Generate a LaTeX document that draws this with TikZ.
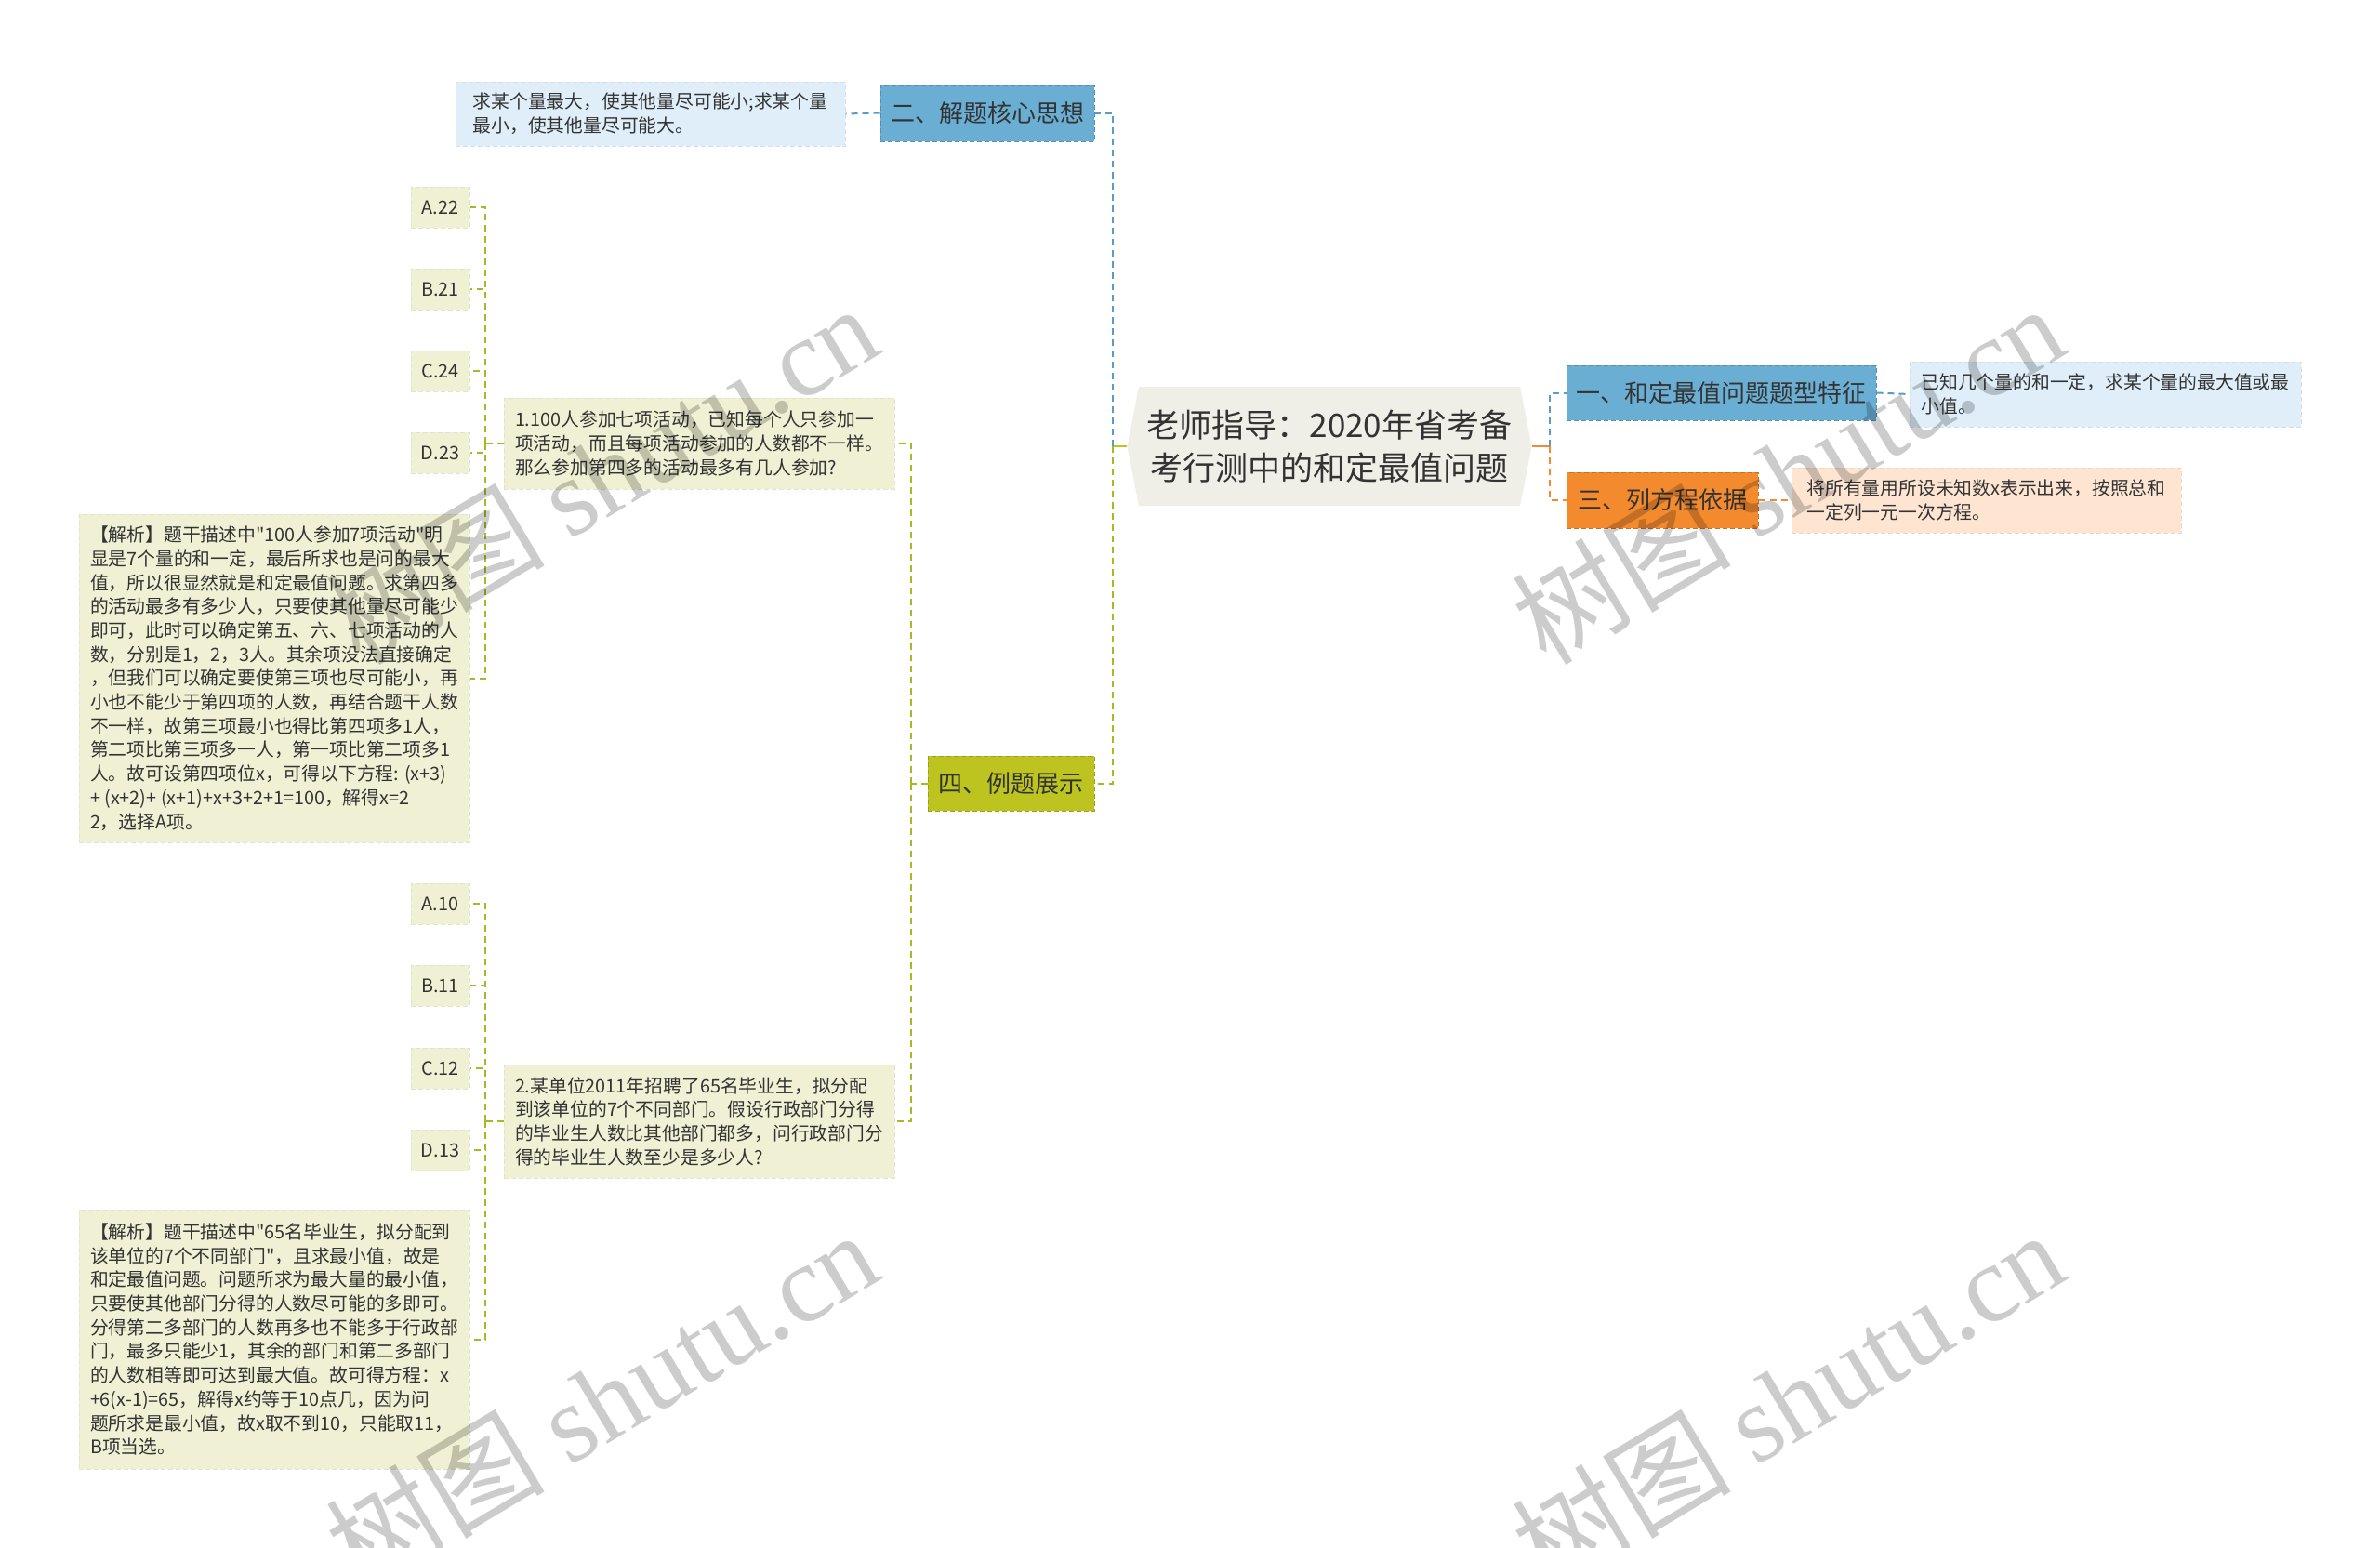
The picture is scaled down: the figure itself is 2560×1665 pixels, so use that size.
\documentclass[tikz,border=0pt]{standalone}
\usepackage{fontspec}
\setmainfont{Noto Sans CJK SC}[Ligatures=TeXOff]
\newfontfamily\wmfont{Liberation Serif}
\usetikzlibrary{shapes.symbols}
\definecolor{RootFill}{HTML}{EFEFE7}
\definecolor{TextDark}{HTML}{333333}
\definecolor{SkyMain}{HTML}{6AAED4}
\definecolor{SkyPale}{HTML}{DFEEF8}
\definecolor{SkyLine}{HTML}{5A9CC6}
\definecolor{OrangeMain}{HTML}{F48A2E}
\definecolor{OrangePale}{HTML}{FDE5D2}
\definecolor{OliveMain}{HTML}{BEC41F}
\definecolor{OlivePale}{HTML}{F0F1D4}
\definecolor{OliveLine}{HTML}{A9B922}
\tikzset{
    base/.style={inner sep=0pt, text=TextDark},
    topicbox/.style={base, fill=#1, draw=#1!82!black, dash pattern=on 5pt off 3pt,
        line width=1pt, align=center, font=\fontsize{26}{32}\selectfont},
    notebox/.style={base, fill=#1, draw=#1!94!black, dash pattern=on 5pt off 3pt,
        line width=1pt, align=left, font=\fontsize{19.8}{25.7}\selectfont},
    optbox/.style={notebox=OlivePale, minimum width=63pt, minimum height=44pt},
    link/.style={draw=#1, line width=2pt, dash pattern=on 7pt off 5pt},
    stub/.style={draw=#1, line width=2pt},
    watermark/.style={text=black, text opacity=0.2, rotate=31, inner sep=0pt,
        font=\fontsize{118}{118}\selectfont}
}

\begin{document}
\begin{tikzpicture}[x=1pt, y=-1pt]
    % =========================================
    % 1. 画布 (Canvas)
    % =========================================
    \clip (0,0) rectangle (2560,1665);
    \fill[white] (0,0) rectangle (2560,1665);

    % =========================================
    % 2. 中心主题与分支 (Root and branches)
    % =========================================
    \node[signal, signal to=east and west, signal pointer angle=158, fill=RootFill,
        minimum width=435pt, minimum height=128pt, inner sep=0pt, text=TextDark,
        align=center, font=\fontsize{35}{46}\selectfont] (root) at (1430,480)
        {老师指导：2020年省考备\\考行测中的和定最值问题};

    \node[topicbox=SkyMain, minimum width=230pt, minimum height=61pt] (b2) at (1062,121.5) {二、解题核心思想};
    \node[topicbox=OliveMain, minimum width=179pt, minimum height=59pt] (b4) at (1087.5,842.5) {四、例题展示};
    \node[topicbox=SkyMain, minimum width=333pt, minimum height=59pt] (b1) at (1851.5,422.5) {一、和定最值问题题型特征};
    \node[topicbox=OrangeMain, minimum width=206pt, minimum height=60pt] (b3) at (1788,538) {三、列方程依据};

    % 叶子 (Leaves)
    \node[notebox=SkyPale, minimum width=419pt, minimum height=69pt] (l2) at (699.5,122.5)
        {求某个量最大，使其他量尽可能小;求某个量\\最小，使其他量尽可能大。};
    \node[notebox=SkyPale, minimum width=421pt, minimum height=70pt] (l1) at (2264.5,424)
        {已知几个量的和一定，求某个量的最大值或最\\小值。};
    \node[notebox=OrangePale, minimum width=419pt, minimum height=70pt] (l3) at (2136.5,538)
        {将所有量用所设未知数x表示出来，按照总和\\一定列一元一次方程。};

    % =========================================
    % 3. 例题 (Examples)
    % =========================================
    \node[notebox=OlivePale, minimum width=420pt, minimum height=98pt] (q1) at (752,477)
        {1.100人参加七项活动，已知每个人只参加一\\项活动，而且每项活动参加的人数都不一样。\\那么参加第四多的活动最多有几人参加?};
    \node[notebox=OlivePale, minimum width=420pt, minimum height=122pt] (q2) at (752,1206)
        {2.某单位2011年招聘了65名毕业生，拟分配\\到该单位的7个不同部门。假设行政部门分得\\的毕业生人数比其他部门都多，问行政部门分\\得的毕业生人数至少是多少人?};

    \node[notebox=OlivePale, minimum width=420pt, minimum height=353pt] (e1) at (295,729.5)
        {【解析】题干描述中"100人参加7项活动"明\\
         显是7个量的和一定，最后所求也是问的最大\\
         值，所以很显然就是和定最值问题。求第四多\\
         的活动最多有多少人，只要使其他量尽可能少\\
         即可，此时可以确定第五、六、七项活动的人\\
         数，分别是1，2，3人。其余项没法直接确定\\
         ，但我们可以确定要使第三项也尽可能小，再\\
         小也不能少于第四项的人数，再结合题干人数\\
         不一样，故第三项最小也得比第四项多1人，\\
         第二项比第三项多一人，第一项比第二项多1\\
         人。故可设第四项位x，可得以下方程: (x+3)\\
         + (x+2)+ (x+1)+x+3+2+1=100，解得x=2\\
         2，选择A项。};
    \node[notebox=OlivePale, minimum width=420pt, minimum height=279pt] (e2) at (295,1440.5)
        {【解析】题干描述中"65名毕业生，拟分配到\\
         该单位的7个不同部门"，且求最小值，故是\\
         和定最值问题。问题所求为最大量的最小值，\\
         只要使其他部门分得的人数尽可能的多即可。\\
         分得第二多部门的人数再多也不能多于行政部\\
         门，最多只能少1，其余的部门和第二多部门\\
         的人数相等即可达到最大值。故可得方程：x\\
         +6(x-1)=65，解得x约等于10点几，因为问\\
         题所求是最小值，故x取不到10，只能取11，\\
         B项当选。};

    % =========================================
    % 4. 连线 (Connectors)
    % =========================================
    \coordinate (jL) at (1197,480);
    \coordinate (jR) at (1667,480);
    \coordinate (j4) at (980,842.5);
    \coordinate (jq1) at (522,477);
    \coordinate (jq2) at (522,1206);

    \draw[stub=OliveMain] (root.west) -- (jL);
    \draw[link=SkyLine] (jL) |- (b2.east);
    \draw[link=OliveLine] (jL) |- (b4.east);
    \draw[stub=OrangeMain] (root.east) -- (jR);
    \draw[link=SkyLine] (jR) |- (b1.west);
    \draw[link=OrangeMain] (jR) |- (b3.west);

    \draw[link=SkyLine] (b2.west) -- (l2.east);
    \draw[link=SkyLine] (b1.east) -- (l1.west);
    \draw[link=OrangeMain] (b3.east) -- (l3.west);

    \draw[link=OliveLine] (b4.west) -- (j4);
    \draw[link=OliveLine] (j4) |- (q1.east);
    \draw[link=OliveLine] (j4) |- (q2.east);
    \draw[link=OliveLine] (q1.west) -- (jq1);
    \draw[link=OliveLine] (q2.west) -- (jq2);
    \draw[link=OliveLine] (jq1) |- (e1.east);
    \draw[link=OliveLine] (jq2) |- (e2.east);

    % 选项 (Options)
    \foreach \lbl/\y [count=\i] in {A.22/223, B.21/311, C.24/399, D.23/487} {
        \node[optbox] (o1-\i) at (473.5,\y) {\lbl};
        \draw[link=OliveLine] (jq1) |- (o1-\i.east);
    }
    \foreach \lbl/\y [count=\i] in {A.10/972, B.11/1060, C.12/1149, D.13/1237} {
        \node[optbox] (o2-\i) at (473.5,\y) {\lbl};
        \draw[link=OliveLine] (jq2) |- (o2-\i.east);
    }

    % =========================================
    % 5. 水印 (Watermarks)
    % =========================================
    \foreach \wx/\wy [count=\k] in {647/509, 1923/509, 647/1505, 1923/1505} {
        \node[watermark] (wm-\k) at (\wx,\wy) {树图 {\wmfont shutu.cn}};
    }
\end{tikzpicture}
\end{document}
